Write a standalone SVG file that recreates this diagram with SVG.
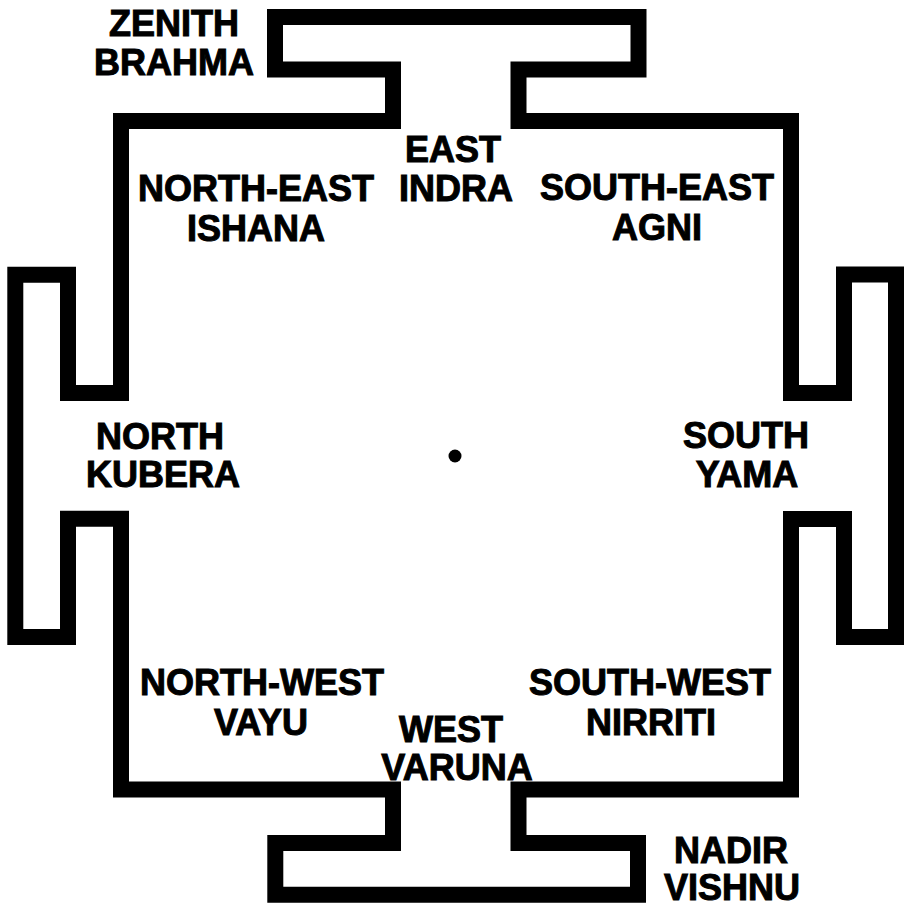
<svg xmlns="http://www.w3.org/2000/svg" width="904" height="907" viewBox="0 0 904 907">
<style>
.outline{fill:none;stroke:#000;stroke-width:16;stroke-linejoin:miter}
.lbl{font-family:"Liberation Sans",Arial,sans-serif;font-weight:bold;font-size:36px;fill:#000;stroke:#000;stroke-width:1;text-anchor:middle}
</style>
<rect width="904" height="907" fill="#fff"/>
<g id="yantra">
<path class="outline" d="M121,121 H393 V69.5 H275 V17 H638.5 V69.5 H518.5 V121 H791 V393 H844 V274.5 H896 V637 H844 V519 H791 V789.5 H518.5 V843 H638 V894.7 H275.3 V843 H393 V789.5 H121 V518.8 H68 V637 H15.3 V274.7 H68 V393 H121 Z"/>
<circle cx="455" cy="456" r="6.5" fill="#000"/>
</g>
<g id="connectors"></g>
<g id="zenith"><text class="lbl" x="174" y="36">ZENITH</text><text class="lbl" x="174" y="75">BRAHMA</text></g>
<g id="east"><text class="lbl" x="453" y="161.5">EAST</text><text class="lbl" x="456" y="201">INDRA</text></g>
<g id="north-east"><text class="lbl" x="256" y="201">NORTH-EAST</text><text class="lbl" x="256" y="241">ISHANA</text></g>
<g id="south-east"><text class="lbl" x="657" y="200">SOUTH-EAST</text><text class="lbl" x="657" y="240">AGNI</text></g>
<g id="north"><text class="lbl" x="160" y="449">NORTH</text><text class="lbl" x="163" y="487">KUBERA</text></g>
<g id="south"><text class="lbl" x="746" y="448">SOUTH</text><text class="lbl" x="747" y="487">YAMA</text></g>
<g id="north-west"><text class="lbl" x="262" y="695">NORTH-WEST</text><text class="lbl" x="261" y="735">VAYU</text></g>
<g id="south-west"><text class="lbl" x="650" y="695">SOUTH-WEST</text><text class="lbl" x="651" y="735">NIRRITI</text></g>
<g id="west"><text class="lbl" x="451" y="741.5">WEST</text><text class="lbl" x="457" y="780">VARUNA</text></g>
<g id="nadir"><text class="lbl" x="731" y="863">NADIR</text><text class="lbl" x="732" y="900">VISHNU</text></g>
</svg>
